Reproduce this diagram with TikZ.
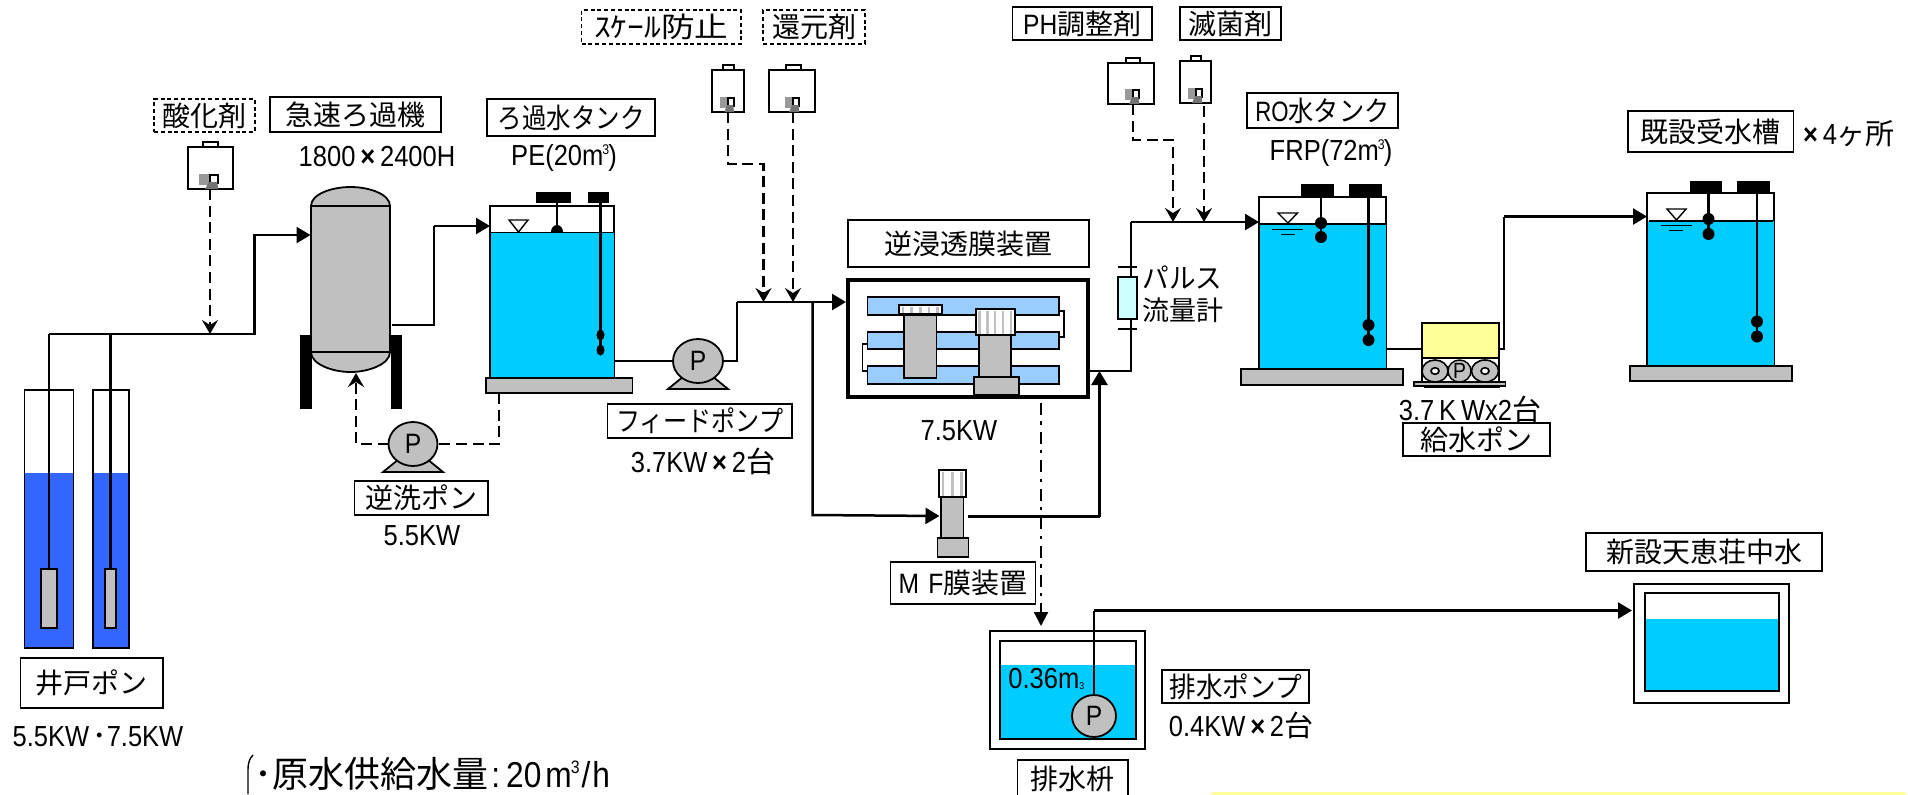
\documentclass[tikz,border=0pt]{standalone}
\usepackage{fontspec}
\usepackage{graphicx}
\usetikzlibrary{arrows.meta,shapes.geometric}
\newfontfamily\jp{Noto Sans CJK JP}
\newfontfamily\la[FakeStretch=0.88]{Liberation Sans}
\newfontfamily\lab[FakeStretch=0.88]{Liberation Sans}
\newcommand\Ltn[1]{{\la #1}}
\newcommand\hs[2]{\scalebox{#1}[1]{#2}}
\newcommand\cub{\raisebox{5.5pt}{\fontsize{7}{7}\selectfont\la 3}}
\definecolor{eqgray}{HTML}{C0C0C0}
\definecolor{wtr}{HTML}{00CCFF}
\definecolor{well}{HTML}{3366FF}
\definecolor{memb}{HTML}{99CCFF}
\definecolor{flowm}{HTML}{CCFFFF}
\definecolor{pyel}{HTML}{FFFF99}
\tikzset{
  lbl/.style={draw=black,line width=0.75pt,fill=white,font=\fontsize{14}{16}\selectfont\jp},
  dlbl/.style={lbl,line width=0.7pt,dash pattern=on 2pt off 1.4pt},
  txt/.style={inner sep=0pt,font=\fontsize{14.5}{16}\selectfont\la},
  pipe/.style={draw=black,line width=1.25pt},
  flow/.style={pipe,-{Triangle[length=7pt,width=8pt]}},
  chemline/.style={pipe,dash pattern=on 5.5pt off 2.8pt,-{Stealth[length=7pt,width=8pt,inset=2.5pt]}},
  backw/.style={pipe,dash pattern=on 5.5pt off 2.8pt},
  drain/.style={pipe,line width=1.1pt,dash pattern=on 6pt off 3.2pt on 1.6pt off 3.5pt},
  equip/.style={draw=black,line width=0.9pt,fill=eqgray},
  thinb/.style={draw=black,line width=1pt,fill=white},
  wt/.style={fill=wtr,draw=none},
  blk/.style={fill=black,draw=none},
  floatl/.style={draw=black,line width=1.15pt},
}
\newcommand\rbox[7][]{\node[#2,rectangle,inner sep=0pt,outer sep=0pt,minimum width={((#6)-(#4))*0.5pt},minimum height={((#7)-(#5))*0.5pt}] (#3) at ({((#4)+(#6))/2},{((#5)+(#7))/2}) {#1};}
\newcommand\pumpn[5]{%
  \draw[equip] (#2-14,#3+15) -- (#2-30,#3+28) -- (#2+30,#3+28) -- (#2+14,#3+15) -- cycle;
  \node[ellipse,equip,inner sep=0pt,outer sep=0pt,minimum width={#4*1pt},minimum height={#5*1pt},font=\fontsize{14}{16}\selectfont\la] (#1) at (#2,#3) {P};}
% name x1 y1 x2 y2 caphalf outletx grayw
\newcommand\chemt[8]{%
  \rbox{thinb}{#1cap}{#7-#6}{#3-5}{#7+#6}{#3}
  \rbox{thinb}{#1}{#2}{#3}{#4}{#5}
  \fill[gray!80] (#7-#8,#5-15) rectangle (#7,#5-4);
  \draw[black,line width=0.9pt,fill=white] (#7,#5-14) rectangle (#7+#8*0.7,#5-6);
  \fill[black!55] (#7-1,#5-7) -- (#7+#8*0.65,#5-7) -- (#7+#8*0.75,#5) -- (#7-#8*0.45,#5) -- cycle;
  \coordinate (#1o) at (#7,#5);}
\newcommand\stripes[6]{%
  \rbox{thinb}{#1}{#2}{#3}{#4}{#5}
  \foreach \k in {1,...,#6}{\fill[eqgray] ({#2+(#4-#2)*(\k-0.65)/#6},#3+1.5) rectangle ({#2+(#4-#2)*(\k-0.35)/#6},#5-1.5);}
  \draw[black,line width=0.9pt] (#2,#3) rectangle (#4,#5);}
\newcommand\ball[2]{\fill[black] (#1,#2) ellipse [x radius=6,y radius=6];}
\begin{document}
\begin{tikzpicture}[x=0.5pt,y=-0.5pt]
\useasboundingbox (0,0) rectangle (1908,794);
\clip (0,0) rectangle (1908,794);

% ---------- wells
\foreach \xa/\xb in {24.5/73.5,93/129}{
  \fill[white] (\xa,390) rectangle (\xb,648);
  \fill[well] (\xa,473) rectangle (\xb,648);
  \draw[black,line width=0.7pt] (\xa,390) -- (\xa,648) -- (\xb,648) -- (\xb,390) -- cycle;}
\rbox{equip}{wpa}{41}{569}{57}{628}
\rbox{equip}{wpb}{105}{569}{116}{628}
\coordinate (wa) at (49,334);
\coordinate (wb) at (110.5,334);
\coordinate (rise) at (254.5,235);
\draw[pipe] (wa) -- (wpa.north);
\draw[pipe] (wb) -- (wpb.north);

% ---------- rapid filter
\fill[black] (300,335) rectangle (312,409);
\fill[black] (390.5,335) rectangle (402,409);
\draw[equip] (311,206) .. controls (311,194) and (332,187) .. (350.5,187) .. controls (369,187) and (390,194) .. (390,206) -- (390,352) .. controls (390,364) and (369,372) .. (350.5,372) .. controls (332,372) and (311,364) .. (311,352) -- cycle;
\draw[black,line width=0.8pt] (311,206) -- (390,206);
\draw[black,line width=0.8pt] (311,352) -- (390,352);
\coordinate (fin) at (310.5,235);
\coordinate (fout) at (392,325);
\coordinate (fbot) at (356,373);
\draw[flow] (wa) -| (rise) -- (fin);

% ---------- filtered-water tank
\rbox{thinb}{tka}{490}{206}{614}{378}
\fill[black] (557,232) ellipse [x radius=6,y radius=7];
\fill[wt] (491,232) rectangle (614,378);
\draw[black,line width=0.5pt] (490,232) -- (614,232);
\fill[blk] (536,192) rectangle (571,203);
\fill[blk] (588,192) rectangle (609,203);
\draw[floatl] (557,203) -- (557,226);
\draw[floatl] (600.5,203) -- (600.5,350);
\draw[black,line width=0.7pt] (509,220) -- (528,220) -- (518.5,232) -- cycle;
\fill[black] (600.5,335) ellipse [x radius=4,y radius=5.5];
\fill[black] (600.5,350) ellipse [x radius=4,y radius=5.5];
\rbox{equip}{tkab}{486}{378}{632.5}{393}
\coordinate (tkain) at (490,226);
\coordinate (fup) at (434,226);
\draw[pipe] (fout) -| (fup);
\draw[flow] (fup) -- (tkain);

% ---------- backwash pump
\pumpn{bp}{413}{444}{24.5}{22}
\coordinate (tbb) at (499,393);
\draw[backw] (tbb) |- (bp.east);
\draw[backw,-{Stealth[length=7pt,width=8pt,inset=2.5pt]}] (bp.west) -| (fbot);

% ---------- chemical dosing tanks
\chemt{csan}{187.5}{147}{233}{189}{7.5}{210}{11}
\coordinate (jsan) at (210,334);
\draw[chemline] (csano) -- (jsan);
\chemt{csca}{712}{70}{743.5}{112}{5.5}{728}{8}
\chemt{cred}{769}{70}{814.5}{112}{7.5}{793}{8.5}
\chemt{cph}{1108}{63}{1154}{104}{7}{1133}{8.5}
\chemt{cste}{1180}{61}{1210.5}{103}{5}{1196}{8.5}

% ---------- feed pump and header
\pumpn{fp}{698}{361}{25}{22}
\coordinate (fpup) at (737,302);
\coordinate (jbr) at (812.5,302);
\coordinate (jsca) at (763.5,302);
\coordinate (jred) at (793,302);
\coordinate (scam) at (763.5,164);
\coordinate (roin) at (846,302);
\coordinate (tkaout) at (614,361);
\draw[pipe] (tkaout) -- (fp.west);
\draw[pipe] (fp.east) -| (fpup);
\draw[flow] (fpup) -- (roin);
\draw[chemline] (cscao) |- (scam) -- (jsca);
\draw[chemline] (credo) -- (jred);

% ---------- RO unit
\rbox{draw=black,line width=2.3pt,fill=white}{ro}{848}{280}{1088}{397}
\foreach \ya/\yb in {297/315,332/349,366/384}{
  \draw[black,line width=0.8pt,fill=memb] (867.5,\ya) rectangle (1059,\yb);}
\draw[black,line width=0.8pt] (1059,311) -- (1064,311) -- (1064,337) -- (1059,337);
\draw[black,line width=0.8pt] (867.5,344) -- (862.5,344) -- (862.5,371) -- (867.5,371);
\rbox{equip}{coa}{904}{315}{936.5}{378}
\stripes{cohead}{898.5}{305}{942}{314}{5}
\rbox{equip}{cob}{979}{335}{1011}{378}
\stripes{cbhead}{975.5}{309}{1015}{335}{5}
\rbox{equip}{cobase}{974}{377}{1019}{395}

% ---------- RO outlet, flow meter
\coordinate (roout) at (1090,371);
\coordinate (roj) at (1099.5,371);
\coordinate (flowc) at (1131,222);
\coordinate (ain) at (1259,222);
\coordinate (jph) at (1173,222);
\coordinate (jste) at (1204,222);
\coordinate (phm) at (1173,140);
\coordinate (stet) at (1204,106);
\draw[pipe] (roout) -| (flowc);
\draw[flow] (flowc) -- (ain);
\draw[chemline] (cpho) |- (phm) -- (jph);
\draw[chemline] (stet) -- (jste);
\rbox{draw=black,line width=1pt,fill=flowm}{fm}{1118}{277}{1137}{319}
\coordinate (fmta) at (1118,267); \coordinate (fmtb) at (1137,267);
\coordinate (fmba) at (1118,329); \coordinate (fmbb) at (1137,329);
\draw[pipe] (fmta) -- (fmtb);
\draw[pipe] (fmba) -- (fmbb);

% ---------- MF unit
\stripes{mfhead}{938.5}{470}{966}{497}{3}
\rbox{equip}{mfb}{941}{497}{963.5}{538}
\rbox{equip}{mfbase}{937.5}{538}{968.5}{557}
\coordinate (jmfin) at (939.5,516);
\coordinate (mfout) at (968,516.5);
\coordinate (mfc) at (812.5,515);
\coordinate (jmfup) at (1099.5,516.5);
\draw[flow] (jbr) -- (mfc) -- (jmfin);
\draw[pipe] (mfout) -- (jmfup);
\draw[flow] (jmfup) -- (roj);

% ---------- drain pit
\rbox{draw=black,line width=1pt,fill=white}{pit}{990}{631}{1145}{749}
\rbox{draw=black,line width=1pt,fill=white}{pitin}{1000}{641}{1136}{739}
\fill[wt] (1001,665) rectangle (1136,738);
\draw[black,line width=1pt] (1000,641) rectangle (1136,739);
\node[ellipse,equip,inner sep=0pt,outer sep=0pt,minimum width=22pt,minimum height=21pt,font=\fontsize{14}{16}\selectfont\la] (dp) at (1094,716) {P};
\coordinate (drs) at (1041,403);
\coordinate (dre) at (1041,626);
\draw[drain,-{Triangle[length=7pt,width=7pt]}] (drs) -- (dre);
\coordinate (dpc) at (1094,610.5);
\coordinate (ntin) at (1632,610.5);
\draw[pipe] (dp.north) -- (dpc);
\draw[flow] (dpc) -- (ntin);

% ---------- new tank
\rbox{draw=black,line width=1.1pt,fill=white}{nt}{1634}{584}{1789}{703}
\fill[wt] (1645,619) rectangle (1779,692);
\draw[black,line width=1.1pt] (1645,593) rectangle (1779,691);

% ---------- RO water tank
\rbox{thinb}{tkb}{1259}{197}{1386}{369}
\fill[wt] (1260,224) rectangle (1386,369);
\draw[black,line width=1pt] (1259,224) -- (1386,224);
\fill[blk] (1301,184) rectangle (1334,196);
\fill[blk] (1349,184) rectangle (1381.5,196);
\draw[floatl] (1321,196) -- (1321,237);
\draw[floatl] (1368.5,196) -- (1368.5,340);
\ball{1321}{223}\ball{1321}{237}\ball{1368.5}{325}\ball{1368.5}{340}
\draw[black,line width=0.7pt] (1278,213) -- (1297.5,213) -- (1288,223) -- cycle;
\draw[black,line width=0.4pt] (1272,229) -- (1303,229);
\draw[black,line width=0.4pt] (1281,234) -- (1294.5,234);
\rbox{equip}{tkbb}{1241}{369}{1403}{385}

% ---------- supply pump unit
\rbox{thinb}{spk}{1422}{358}{1499}{382}
\node[ellipse,draw=black,line width=0.7pt,fill=eqgray,inner sep=0pt,outer sep=0pt,minimum width=11.5pt,minimum height=11pt,font=\fontsize{11}{12}\selectfont\la] (sp) at (1459.5,371) {P};
\draw[black,line width=0.8pt,fill=eqgray] (1435,371) ellipse [x radius=13,y radius=11];
\draw[black,line width=0.8pt,fill=eqgray] (1485,371) ellipse [x radius=13.5,y radius=11];
\draw[black,line width=0.8pt,fill=white] (1435,371) ellipse [x radius=4,y radius=3.3];
\draw[black,line width=0.8pt,fill=white] (1485,371) ellipse [x radius=4,y radius=3.3];
\rbox{draw=black,line width=1pt,fill=pyel}{spy}{1422}{323}{1499}{358}
\rbox{draw=black,line width=0.7pt,fill=eqgray}{spb}{1414}{382}{1505.5}{386}
\fill[black] (1424,386) rectangle (1500,388);
\coordinate (tkbo) at (1386,349);
\coordinate (spl) at (1422,349);
\coordinate (spr) at (1499,349);
\coordinate (spup) at (1504,216.5);
\coordinate (tkcin) at (1647,216.5);
\draw[pipe] (tkbo) -- (spl);
\draw[pipe] (spr) -| (spup);
\draw[flow] (spup) -- (tkcin);

% ---------- receiving tank
\rbox{thinb}{tkc}{1647}{193}{1774}{366}
\fill[wt] (1648,221) rectangle (1774,366);
\draw[black,line width=1pt] (1649,221) -- (1773,221);
\fill[blk] (1689.5,181) rectangle (1722,193);
\fill[blk] (1737,181) rectangle (1770,193);
\draw[floatl] (1708.5,193) -- (1708.5,234);
\draw[floatl] (1757,193) -- (1757,337);
\ball{1708.5}{219}\ball{1708.5}{234}\ball{1757}{321.5}\ball{1757}{336.5}
\draw[black,line width=0.7pt] (1667,209) -- (1686,209) -- (1676.5,220) -- cycle;
\draw[black,line width=0.4pt] (1661,225.5) -- (1692,225.5);
\draw[black,line width=0.4pt] (1669,230) -- (1683,230);
\rbox{equip}{tkcb}{1630}{366}{1792}{381}

% ---------- boxed labels
\rbox[酸化剤]{dlbl}{lsan}{154}{99}{255}{132}
\rbox[急速ろ過機]{lbl}{lfil}{270}{97}{441}{132}
\rbox[\hs{0.875}{ろ過水タンク}]{lbl}{ltka}{487}{99}{655}{136}
\rbox[\hs{1.2}{ｽｹｰﾙ防止}]{dlbl}{lsca}{581.5}{10}{741}{44}
\rbox[還元剤]{dlbl}{lred}{763}{10}{865}{44}
\rbox[\Ltn{PH}調整剤]{lbl}{lph}{1012.5}{7}{1152}{40}
\rbox[滅菌剤]{lbl}{lste}{1180}{7}{1281}{40}
\rbox[逆浸透膜装置]{lbl}{lro}{848}{220}{1089}{267}
\rbox[\hs{0.9}{\Ltn{RO}水タンク}]{lbl}{ltkb}{1247}{93}{1398}{128}
\rbox[既設受水槽]{lbl}{ltkc}{1628}{111}{1793.5}{152}
\rbox[給水ポン]{lbl}{lsp}{1403}{423}{1550}{456}
\rbox[\hs{0.86}{フィードポンプ}]{lbl}{lfp}{607.5}{404}{792}{438}
\rbox[逆洗ポン]{lbl}{lbp}{354.5}{481}{488}{515}
\rbox[井戸ポン]{lbl}{lwp}{20.5}{658}{163}{708}
\rbox[\Ltn{M\,\,F}膜装置]{lbl}{lmf}{890.5}{562}{1035.5}{604}
\rbox[排水枡]{lbl}{lpit}{1017.5}{760}{1128}{798}
\rbox[\hs{0.95}{排水ポンプ}]{lbl}{ldp}{1162}{670}{1309}{703}
\rbox[新設天恵荘中水]{lbl}{lnt}{1586}{533}{1822}{571}

% ---------- free texts
\node[txt] (t1) at (377,157) {1800{\lab\bfseries\,×\,}2400H};
\node[txt] (t2) at (564,158) {PE(20m\kern-0.5pt\cub\kern-0.5pt)};
\node[txt] (t3) at (422,536) {5.5KW};
\node[txt] (t4) at (98,737) {5.5KW\kern1.5pt{\jp ･}7.5KW};
\node[txt] (t5) at (703,461) {3.7KW{\lab\bfseries\,×\,}2{\jp 台}};
\node[txt] (t6) at (959,431) {7.5KW};
\node[txt] (t7) at (1331,153) {FRP(72m\kern-0.5pt\cub\kern-0.5pt)};
\node[txt] (t8) at (1470,409) {3.7\,K\,Wx2{\jp 台}};
\node[txt] (t9) at (1241,725) {0.4KW{\lab\bfseries\,×\,}2{\jp 台}};
\node[txt,anchor=west] (t10) at (1008,679) {0.36m{\raisebox{-0.5pt}{\fontsize{5}{5}\selectfont 3}}};
\node[txt] (t11) at (1849,134) {{\lab\bfseries×\,}4{\jp ヶ所}};
\node[inner sep=0pt,font=\fontsize{14}{16}\selectfont\jp] (t12) at (1182.5,278) {\hs{0.95}{パルス}};
\node[inner sep=0pt,font=\fontsize{13.5}{16}\selectfont\jp] (t13) at (1182.5,310) {流量計};
\node[inner sep=0pt,anchor=west,font=\fontsize{18}{20}\selectfont\jp] (t14) at (254,774) {･原水供給水量\kern1.5pt\Ltn{:\kern3pt 20\kern2pt m\kern-0.5pt\raisebox{7pt}{\fontsize{9}{9}\selectfont 3}\kern1pt/\kern1pt h}};
\draw[black,line width=0.7pt] (253,755) .. controls (250,758) and (248,762) .. (248,770) -- (248,794);

% ---------- pale band at the bottom edge
\fill[pyel,rounded corners=3pt] (1209,792) rectangle (1908,810);
\end{tikzpicture}
\end{document}
